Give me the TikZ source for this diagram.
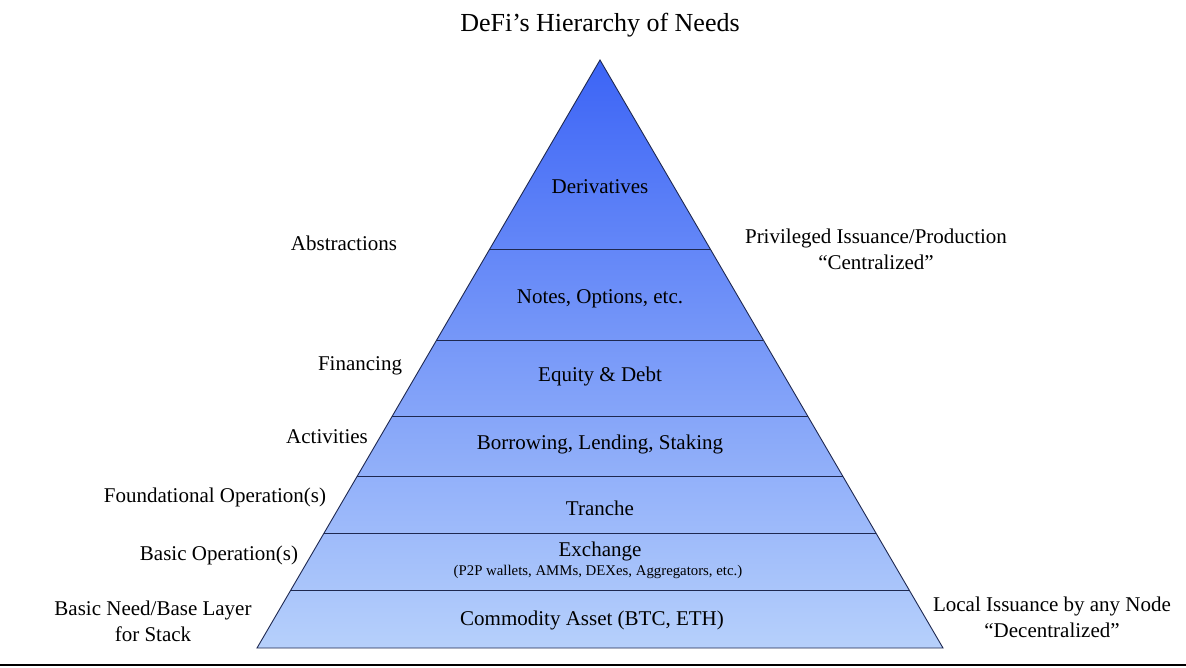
\documentclass[tikz,border=0pt]{standalone}
\usepackage{fontspec}
\setmainfont{Liberation Serif}
\newfontfamily\diagfont{Liberation Serif}
\usetikzlibrary{calc}
\definecolor{topblue}{RGB}{60,100,246}
\definecolor{botblue}{RGB}{182,208,251}
\definecolor{edgecol}{RGB}{30,40,80}
\tikzset{
  lbl/.style={inner sep=0pt, align=center, font=\diagfont\fontsize{21}{26}\selectfont},
  layer/.style={inner sep=0pt, font=\diagfont\fontsize{21}{26}\selectfont},
  divider/.style={draw=edgecol, line width=0.9pt},
}
\begin{document}
\begin{tikzpicture}[x=1pt,y=-1pt]
\useasboundingbox (0,0) rectangle (1186,668);
\fill[white] (0,0) rectangle (1186,668);
% pyramid
\coordinate (A) at (600,60);
\coordinate (BL) at (257,648);
\coordinate (BR) at (943,648);
\shade[top color=topblue, bottom color=botblue] (A) -- (BL) -- (BR) -- cycle;
\draw[edgecol, line width=0.9pt, line join=miter] (A) -- (BL) -- (BR) -- cycle;
% dividers
\foreach \t/\n in {0.3214/d1,0.4762/d2,0.6054/d3,0.7075/d4,0.8044/d5,0.9014/d6}{
  \coordinate (\n l) at ($(A)!\t!(BL)$);
  \coordinate (\n r) at ($(A)!\t!(BR)$);
  \draw[divider] (\n l) -- (\n r);
}
% title
\node[inner sep=0pt, font=\diagfont\fontsize{26}{30}\selectfont] (title) at (600,25) {DeFi’s Hierarchy of Needs};
% layers
\node[layer] (deriv) at (600,187) {Derivatives};
\node[layer] (notes) at (600,299) {Notes, Options, etc.};
\node[layer] (equity) at (600,376) {Equity \& Debt};
\node[layer] (borrow) at (600,444) {Borrowing, Lending, Staking};
\node[layer] (tranche) at (600,508) {Tranche};
\node[layer] (exch) at (600,551) {Exchange};
\node[inner sep=0pt, font=\diagfont\fontsize{14.8}{16}\selectfont] (exsub) at (598,572) {(P2P wallets, AMMs, DEXes, Aggregators, etc.)};
\node[layer] (commod) at (592,620) {Commodity Asset (BTC, ETH)};
% left labels
\node[layer] (abs) at (344,243) {Abstractions};
\node[layer] (fin) at (360,366) {Financing};
\node[layer] (act) at (327,437) {Activities};
\node[layer] (found) at (215,497) {Foundational Operation(s)};
\node[layer] (basicop) at (219,555) {Basic Operation(s)};
\node[lbl] (basicneed) at (153,621) {Basic Need/Base Layer\\for Stack};
% right labels
\node[lbl] (priv) at (876,249) {Privileged Issuance/Production\\“Centralized”};
\node[lbl] (local) at (1052,617) {Local Issuance by any Node\\“Decentralized”};
% bottom rule
\coordinate (rl) at (0,665);
\coordinate (rr) at (1186,665);
\draw[black, line width=2pt] (rl) -- (rr);
\end{tikzpicture}
\end{document}
